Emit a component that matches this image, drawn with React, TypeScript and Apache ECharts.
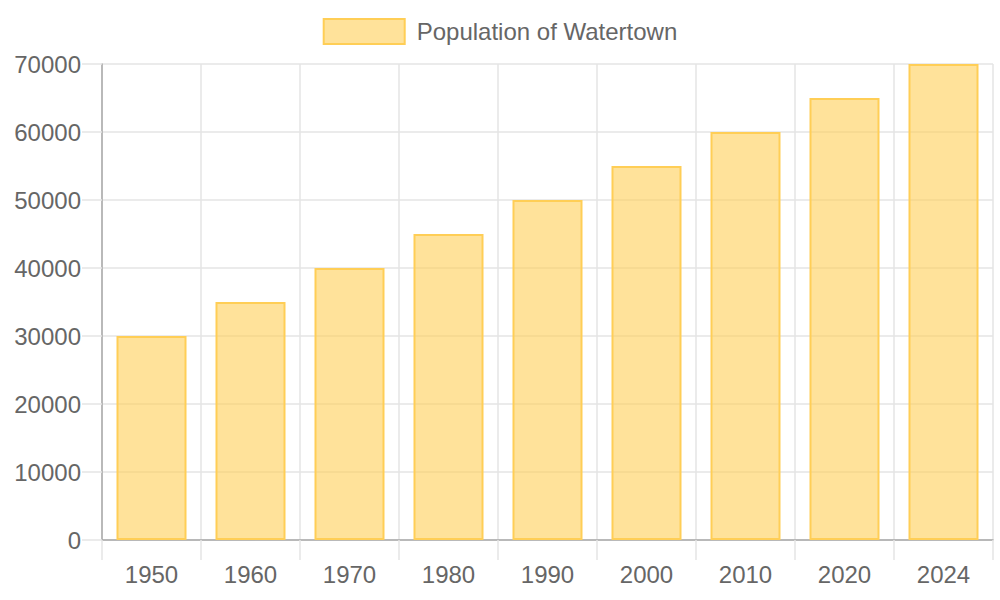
import React, { useEffect, useRef } from "react";
import * as echarts from "echarts";

const years = ["1950", "1960", "1970", "1980", "1990", "2000", "2010", "2020", "2024"];
const population = [30000, 35000, 40000, 45000, 50000, 55000, 60000, 65000, 70000];
const seriesName = "Population of Watertown";

const FONT = "'Liberation Sans', Arial, sans-serif";
const TEXT = "#666666";
const GRID = "#e4e4e4";
const AXIS = "#a8a8a8";

export default function App() {
  const ref = useRef<HTMLDivElement>(null);

  useEffect(() => {
    document.body.style.margin = "0";
    const chart = echarts.init(ref.current!, undefined, { renderer: "svg" });
    chart.setOption({
      animation: false,
      textStyle: { fontFamily: FONT },
      legend: {
        top: 13,
        left: "center",
        itemWidth: 81,
        itemHeight: 25,
        itemGap: 10,
        icon: "rect",
        textStyle: { fontSize: 24, color: TEXT, fontFamily: FONT, padding: [0, 0, 0, 7] },
        data: [seriesName],
      },
      grid: { left: 102, right: 7, top: 64, bottom: 60, containLabel: false },
      xAxis: {
        type: "category",
        data: years,
        boundaryGap: true,
        axisLine: { lineStyle: { color: AXIS, width: 1.5 } },
        axisTick: { show: true, length: 20, lineStyle: { color: GRID, width: 1.5 } },
        splitLine: { show: true, lineStyle: { color: GRID, width: 1.5 } },
        axisLabel: { fontSize: 24, color: TEXT, margin: 22, fontFamily: FONT },
      },
      yAxis: {
        type: "value",
        min: 0,
        max: 70000,
        interval: 10000,
        axisLine: { show: true, lineStyle: { color: AXIS, width: 1.5 } },
        axisTick: { show: true, length: 20, lineStyle: { color: GRID, width: 1.5 } },
        splitLine: { show: true, lineStyle: { color: GRID, width: 1.5 } },
        axisLabel: {
          fontSize: 24,
          color: TEXT,
          margin: 21,
          fontFamily: FONT,
          formatter: (v: number) => String(v),
        },
      },
      series: [
        {
          name: seriesName,
          type: "bar",
          data: population,
          barWidth: 70,
          itemStyle: {
            color: "rgba(255, 206, 86, 0.6)",
            borderColor: "#FFCE56",
            borderWidth: 2,
          },
        },
      ],
    });
    return () => chart.dispose();
  }, []);

  return <div ref={ref} style={{ width: 1000, height: 600 }} />;
}
